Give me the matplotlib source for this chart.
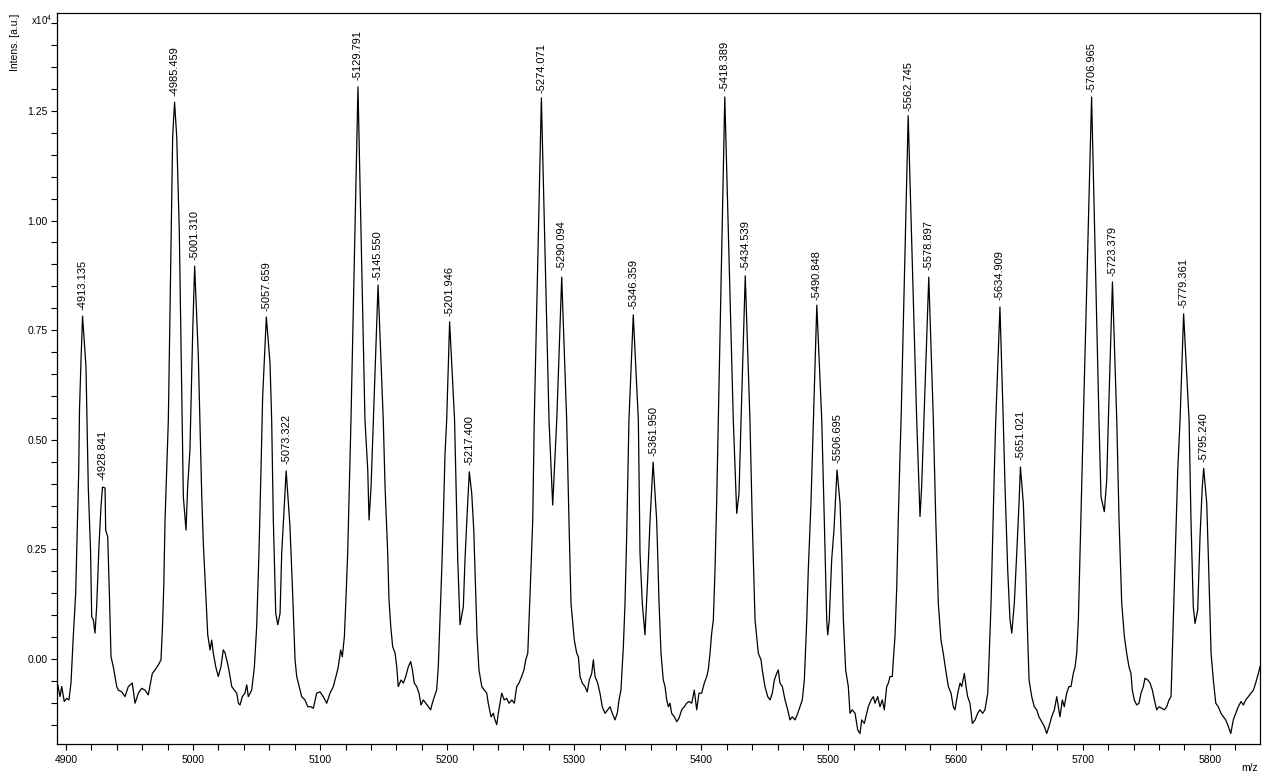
import numpy as np
import matplotlib
matplotlib.use("Agg")
import matplotlib.pyplot as plt
from matplotlib.ticker import MultipleLocator, FuncFormatter

plt.rcParams['font.family'] = ['Liberation Sans', 'DejaVu Sans']
plt.rcParams['mathtext.fontset'] = 'custom'
plt.rcParams['mathtext.rm'] = 'Liberation Sans'

# Spectrum trace (m/z, intensity in a.u.)
mz = [
    4893.6, 4895.4, 4896.7, 4898.7, 4900.6, 4902.4, 4904.0, 4905.8, 4907.7, 4909.0,
    4910.1, 4910.7, 4911.9, 4913.1, 4915.8, 4917.6, 4919.4, 4920.3, 4921.6, 4922.9,
    4924.2, 4926.0, 4927.6, 4928.8, 4930.8, 4931.3, 4932.9, 4934.2, 4935.5, 4937.3,
    4940.0, 4941.2, 4943.9, 4946.5, 4949.1, 4952.2, 4954.4, 4957.0, 4959.6, 4962.2,
    4964.8, 4968.0, 4970.1, 4972.7, 4974.8, 4975.9, 4977.0, 4978.0, 4979.3, 4980.6,
    4984.0, 4985.5, 4987.2, 4989.2, 4992.4, 4994.5, 4995.8, 4997.6, 4999.8, 5001.3,
    5004.2, 5006.9, 5008.1, 5010.0, 5011.6, 5013.4, 5014.7, 5016.0, 5017.9, 5019.9,
    5022.0, 5023.8, 5025.2, 5026.5, 5027.8, 5029.1, 5030.5, 5032.5, 5034.4, 5035.7,
    5037.0, 5038.8, 5040.9, 5042.3, 5043.5, 5046.2, 5048.3, 5050.1, 5051.9, 5053.5,
    5054.8, 5057.7, 5060.6, 5061.9, 5063.2, 5065.1, 5066.7, 5068.5, 5069.8, 5071.9,
    5073.3, 5076.3, 5078.2, 5080.3, 5081.6, 5084.2, 5085.5, 5088.1, 5090.3, 5092.8,
    5094.7, 5097.3, 5099.9, 5102.5, 5105.2, 5107.8, 5110.4, 5113.1, 5114.3, 5116.2,
    5117.5, 5119.1, 5120.2, 5121.7, 5123.0, 5124.3, 5129.8, 5135.3, 5137.5, 5138.5,
    5140.1, 5141.9, 5145.6, 5149.7, 5151.1, 5153.2, 5154.2, 5155.6, 5157.1, 5159.0,
    5160.3, 5161.5, 5163.7, 5165.5, 5167.4, 5169.4, 5171.3, 5172.6, 5174.1, 5176.0,
    5177.8, 5179.4, 5181.2, 5183.1, 5185.1, 5187.0, 5188.3, 5189.9, 5191.7, 5193.0,
    5194.3, 5195.7, 5196.9, 5198.3, 5199.6, 5201.9, 5205.8, 5208.3, 5210.1, 5212.7,
    5214.0, 5216.1, 5217.4, 5219.3, 5220.9, 5222.4, 5223.5, 5225.0, 5227.2, 5229.2,
    5231.1, 5232.3, 5234.5, 5236.3, 5237.6, 5239.0, 5240.2, 5242.9, 5244.9, 5246.8,
    5248.6, 5250.8, 5252.8, 5254.7, 5256.5, 5258.6, 5260.4, 5261.8, 5263.4, 5264.4,
    5265.9, 5267.3, 5268.5, 5274.1, 5280.1, 5283.0, 5286.2, 5290.1, 5294.0, 5295.8,
    5297.4, 5300.0, 5301.9, 5303.2, 5304.5, 5306.3, 5308.4, 5310.2, 5311.8, 5313.7,
    5315.0, 5316.3, 5318.4, 5320.2, 5322.0, 5324.2, 5326.3, 5328.1, 5329.9, 5332.0,
    5333.8, 5335.2, 5336.7, 5338.6, 5339.9, 5341.2, 5342.5, 5343.0, 5346.4, 5350.4,
    5351.7, 5353.5, 5355.6, 5357.7, 5359.6, 5362.0, 5364.8, 5365.6, 5366.6, 5368.2,
    5370.0, 5371.4, 5372.7, 5374.0, 5375.3, 5376.6, 5378.7, 5380.6, 5382.4, 5384.5,
    5386.5, 5388.4, 5390.3, 5392.4, 5394.4, 5396.3, 5398.1, 5400.2, 5402.3, 5404.2,
    5405.4, 5406.8, 5408.1, 5409.4, 5410.7, 5412.0, 5413.3, 5418.4, 5425.1, 5427.8,
    5429.6, 5431.2, 5434.5, 5438.2, 5440.0, 5442.2, 5444.8, 5446.9, 5447.9, 5450.0,
    5452.2, 5454.0, 5455.8, 5457.4, 5459.2, 5460.5, 5461.8, 5463.7, 5465.8, 5467.9,
    5469.7, 5471.5, 5473.7, 5475.8, 5477.6, 5479.4, 5481.0, 5482.9, 5484.1, 5486.2,
    5488.1, 5490.8, 5494.7, 5496.7, 5498.6, 5499.4, 5500.6, 5502.5, 5504.3, 5506.7,
    5509.1, 5510.4, 5511.7, 5513.5, 5515.6, 5516.9, 5518.7, 5520.9, 5523.0, 5524.8,
    5526.1, 5528.2, 5530.1, 5531.3, 5533.5, 5535.3, 5536.6, 5538.7, 5540.5, 5542.3,
    5543.9, 5545.8, 5547.1, 5548.4, 5550.2, 5551.0, 5552.3, 5553.7, 5554.9, 5556.3,
    5557.1, 5562.7, 5569.4, 5572.0, 5573.3, 5575.1, 5578.9, 5582.5, 5584.4, 5586.4,
    5588.5, 5590.3, 5592.2, 5594.3, 5596.4, 5598.2, 5599.5, 5601.7, 5603.5, 5604.8,
    5606.9, 5608.2, 5609.5, 5611.3, 5613.2, 5615.3, 5617.4, 5619.2, 5621.3, 5623.1,
    5625.3, 5626.5, 5627.9, 5629.2, 5630.5, 5631.6, 5634.9, 5637.5, 5638.9, 5641.0,
    5642.8, 5644.2, 5646.2, 5648.1, 5649.9, 5651.0, 5653.3, 5655.2, 5656.7, 5657.8,
    5659.9, 5661.9, 5663.8, 5665.6, 5667.7, 5669.8, 5671.7, 5673.5, 5675.6, 5677.7,
    5679.6, 5682.1, 5684.0, 5685.5, 5687.4, 5689.2, 5690.8, 5692.6, 5694.0, 5695.3,
    5696.6, 5697.9, 5699.2, 5700.5, 5707.0, 5712.8, 5714.4, 5717.0, 5718.9, 5720.2,
    5723.4, 5726.8, 5728.6, 5730.7, 5732.8, 5734.6, 5736.4, 5738.0, 5739.0, 5740.6,
    5742.5, 5744.3, 5745.9, 5747.7, 5749.0, 5751.2, 5753.0, 5754.8, 5756.4, 5758.2,
    5760.1, 5762.2, 5764.2, 5766.1, 5767.9, 5769.5, 5770.5, 5771.6, 5773.2, 5774.8,
    5776.6, 5779.4, 5783.7, 5785.2, 5787.0, 5788.4, 5790.5, 5792.3, 5794.1, 5795.2,
    5797.6, 5799.4, 5801.0, 5802.8, 5804.7, 5806.7, 5808.8, 5810.7, 5812.5, 5814.6,
    5816.5, 5818.5, 5820.4, 5822.4, 5824.6, 5826.4, 5828.3, 5830.3, 5832.4, 5834.3,
    5836.1, 5838.2, 5839.5,
]
intensity = [
    -590, -860, -630, -970, -900, -935, -550, 510, 1500, 3010,
    4310, 5680, 6820, 7820, 6670, 3930, 2460, 965, 890, 590,
    1190, 2560, 3470, 3920, 3900, 2940, 2790, 1500, 50, -180,
    -630, -710, -750, -860, -630, -550, -1010, -780, -670, -710,
    -820, -330, -250, -140, -20, 660, 1650, 3170, 4310, 5450,
    11910, 12700, 11910, 9790, 3700, 2940, 3930, 4770, 7500, 8960,
    6900, 3700, 2650, 1500, 550, 205, 430, 130, -180, -400,
    -180, 205, 140, -20, -180, -400, -630, -710, -780, -1010,
    -1050, -860, -780, -590, -860, -710, -180, 740, 2420, 4310,
    5980, 7800, 6750, 5450, 3170, 1040, 780, 1040, 2410, 3550,
    4290, 3020, 1650, -20, -400, -710, -860, -935, -1090, -1090,
    -1125, -780, -750, -860, -1010, -780, -630, -330, -180, 205,
    50, 510, 1270, 2410, 3930, 5450, 13050, 5450, 4310, 3170,
    3930, 5450, 8530, 5450, 3930, 2410, 1350, 740, 280, 130,
    -180, -630, -480, -550, -400, -180, -60, -250, -550, -630,
    -780, -1050, -935, -1010, -1090, -1160, -1010, -860, -710, -180,
    890, 2030, 3170, 4690, 5450, 7690, 5450, 2260, 780, 1190,
    2260, 3550, 4270, 3780, 2940, 1500, 510, -250, -630, -710,
    -780, -1010, -1320, -1240, -1390, -1500, -1240, -780, -935, -900,
    -1010, -935, -1010, -630, -550, -400, -250, -20, 130, 890,
    2030, 3170, 5450, 12800, 5450, 3510, 5450, 8710, 5450, 3170,
    1270, 430, 130, 50, -400, -550, -630, -750, -480, -330,
    -20, -400, -550, -780, -1090, -1240, -1160, -1090, -1240, -1390,
    -1240, -935, -710, 280, 1270, 2790, 4690, 5450, 7850, 5450,
    2410, 1270, 550, 1800, 3170, 4490, 3170, 2410, 1350, 140,
    -480, -630, -935, -1090, -1010, -1240, -1320, -1430, -1350, -1160,
    -1090, -1010, -970, -1010, -710, -1160, -780, -780, -550, -400,
    -250, 130, 590, 890, 2030, 3550, 5450, 12820, 5450, 3320,
    3780, 5450, 8740, 5450, 3170, 890, 130, -20, -250, -630,
    -860, -935, -780, -480, -330, -250, -550, -630, -935, -1160,
    -1390, -1320, -1390, -1240, -1090, -935, -480, 890, 2030, 3550,
    5450, 8070, 5450, 3170, 890, 550, 890, 2260, 2940, 4310,
    3550, 2410, 890, -250, -630, -1240, -1160, -1240, -1620, -1700,
    -1390, -1470, -1240, -1090, -935, -860, -1010, -860, -1090, -935,
    -1160, -630, -550, -400, -400, -20, 510, 1650, 3170, 4690,
    5450, 12390, 5450, 3250, 3930, 5450, 8710, 5450, 3170, 1270,
    430, 130, -250, -630, -780, -1090, -1160, -780, -550, -630,
    -330, -630, -860, -1010, -1470, -1390, -1240, -1160, -1240, -1160,
    -780, 130, 1270, 2790, 4310, 5450, 8030, 5450, 3930, 2030,
    890, 590, 1270, 2410, 3550, 4380, 3550, 2030, 510, -480,
    -860, -1090, -1160, -1320, -1430, -1540, -1700, -1540, -1320, -1160,
    -860, -1320, -935, -1090, -780, -630, -630, -330, -180, 130,
    890, 2410, 3930, 5450, 12820, 5450, 3700, 3360, 4080, 5450,
    8600, 5450, 3170, 1270, 510, 130, -180, -330, -710, -935,
    -1050, -1010, -780, -630, -440, -480, -550, -710, -935, -1160,
    -1090, -1125, -1160, -1090, -935, -860, 130, 1270, 2790, 4310,
    5450, 7870, 5450, 3170, 1190, 810, 1120, 2790, 3930, 4350,
    3550, 1800, 130, -480, -1010, -1090, -1240, -1320, -1390, -1540,
    -1700, -1390, -1240, -1090, -970, -1050, -935, -860, -780, -710,
    -550, -330, -180,
]

# Labelled peaks
peak_mz = [4913.135, 4928.841, 4985.459, 5001.310, 5057.659, 5073.322,
           5129.791, 5145.550, 5201.946, 5217.400, 5274.071, 5290.094,
           5346.359, 5361.950, 5418.389, 5434.539, 5490.848, 5506.695,
           5562.745, 5578.897, 5634.909, 5651.021, 5706.965, 5723.379,
           5779.361, 5795.240]

x_ticks = [4900, 5000, 5100, 5200, 5300, 5400, 5500, 5600, 5700, 5800]
y_ticks = [0, 2500, 5000, 7500, 10000, 12500]

fig = plt.figure(figsize=(12.62, 7.75), dpi=100)
ax = fig.add_axes([57 / 1262, 1 - 744 / 775, 1203 / 1262, 731 / 775])

ax.plot(mz, intensity, color='black', linewidth=0.9)

# peak labels sit just above each apex
peak_int = np.interp(peak_mz, mz, intensity)
for m, h in zip(peak_mz, peak_int):
    ax.annotate(f"-{m:.3f}", xy=(m, h), xytext=(0, 5), textcoords='offset points',
                rotation=90, ha='center', va='bottom', fontsize=8, color='black')

ax.set_xlim(4893.0, 5839.5)
ax.set_ylim(-1940, 14735)

ax.set_xticks(x_ticks)
ax.xaxis.set_minor_locator(MultipleLocator(20))
ax.set_yticks(y_ticks)
ax.yaxis.set_minor_locator(MultipleLocator(500))
ax.yaxis.set_major_formatter(FuncFormatter(lambda v, p: f"{v / 1e4:.2f}"))

ax.tick_params(which='both', direction='out', length=4, width=0.8, labelsize=7.5,
               colors='black')
ax.tick_params(axis='x', pad=4)
ax.tick_params(axis='y', pad=3)
for s in ax.spines.values():
    s.set_linewidth(0.9)
    s.set_color('black')

# axis texts in the Bruker style
fig.text(15 / 1262, 1 - 14 / 775, "Intens. [a.u.]", rotation=90, ha='center', va='top',
         fontsize=7.5)
fig.text(52 / 1262, 1 - 20 / 775, "x10$^4$", ha='right', va='center', fontsize=7)
fig.text(1258 / 1262, 1 - 768 / 775, "m/z", ha='right', va='center', fontsize=7.5)

fig.savefig("out.png", dpi=100)
